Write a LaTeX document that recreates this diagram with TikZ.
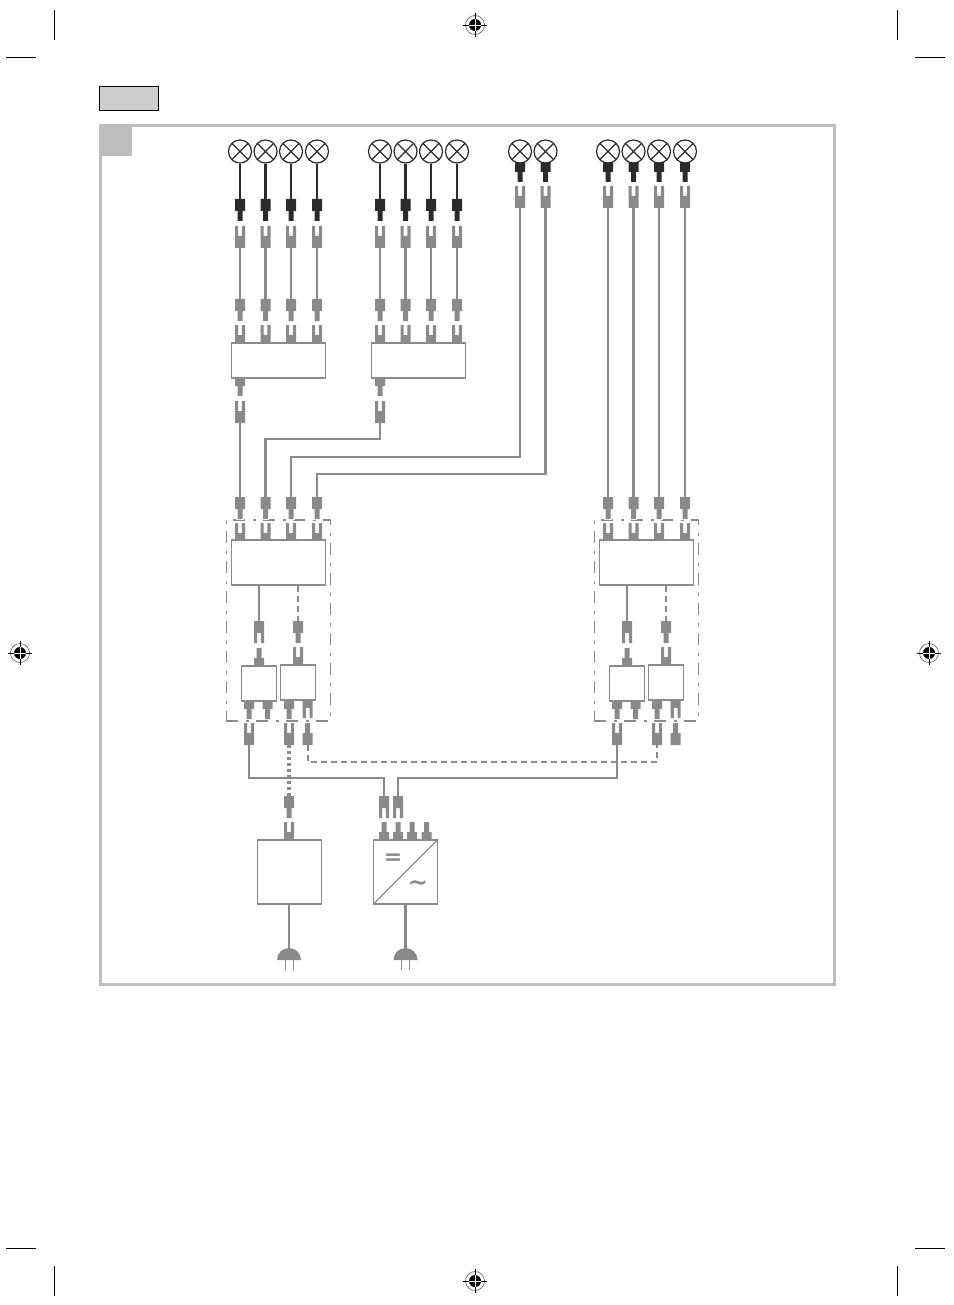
\documentclass[tikz,border=0pt]{standalone}
\usepackage{fontspec}
\newfontfamily\symfont{DejaVu Sans}
\definecolor{plugc}{HTML}{8A8A8A}
\definecolor{plugk}{HTML}{2B2B2B}
\definecolor{framec}{HTML}{BDBDBD}
\tikzset{
	wire/.style={draw=plugc, line width=2.2pt},
	wirek/.style={draw=plugk, line width=2.2pt},
	cord/.style={draw=plugc, line width=2.8pt},
	wiredash/.style={draw=plugc, line width=2.1pt, dash pattern=on 6pt off 4pt},
	wiredot/.style={draw=plugc, line width=3.2pt, dash pattern=on 3pt off 3pt},
	devbox/.style={draw=plugc, fill=white, line width=1.2pt, inner sep=0pt},
	modframe/.style={draw=plugc, line width=1.4pt, inner sep=0pt, minimum width=104pt, minimum height=201pt, dash pattern=on 12pt off 7.5pt on 3pt off 7.5pt},
	halo/.style={preaction={draw=white, line width=2.4pt}},
	lamp/.style={circle, draw=plugk, fill=white, line width=1.2pt, minimum size=23pt, inner sep=0pt,
		path picture={\draw[plugk, line width=1.1pt] (path picture bounding box.north west) -- (path picture bounding box.south east) (path picture bounding box.north east) -- (path picture bounding box.south west);}},
	pics/plugdown/.style={code={
		\path[halo, fill=#1] (-5,0) -- (5,0) -- (5,12) -- (2.5,12) -- (2.5,22) -- (-2.5,22) -- (-2.5,12) -- (-5,12) -- cycle;
		\coordinate (-t) at (0,0);
		\coordinate (-b) at (0,22);
	}},
	pics/plugdown/.default=plugc,
	pics/plugup/.style={code={
		\path[halo, fill=plugc] (-2.5,0) -- (2.5,0) -- (2.5,10) -- (5,10) -- (5,22) -- (-5,22) -- (-5,10) -- (-2.5,10) -- cycle;
		\coordinate (-t) at (0,0);
		\coordinate (-b) at (0,22);
	}},
	pics/forkup/.style={code={
		\path[halo, fill=plugc] (-5,0) -- (-1.9,0) -- (-1.9,10) -- (1.9,10) -- (1.9,0) -- (5,0) -- (5,22) -- (-5,22) -- cycle;
		\coordinate (-t) at (0,0);
		\coordinate (-b) at (0,22);
	}},
	pics/forkdown/.style={code={
		\path[halo, fill=plugc] (-5,0) -- (5,0) -- (5,22) -- (1.9,22) -- (1.9,12) -- (-1.9,12) -- (-1.9,22) -- (-5,22) -- cycle;
		\coordinate (-t) at (0,0);
		\coordinate (-b) at (0,22);
	}},
	pics/mains/.style={code={
		\fill[plugc] (-12,12) arc (180:360:12) -- cycle;
		\draw[plugc, line width=.9pt] (-4,12) -- (-4,22) (4,12) -- (4,22);
		\coordinate (-t) at (0,0);
	}},
	pics/regmark/.style={code={
		\draw[plugk!70, line width=.7pt] (0,0) circle (9.5);
		\fill[black] (0,0) circle (6);
		\draw[black, line width=.8pt] (-12,0) -- (12,0) (0,-12) -- (0,12);
		\draw[white, line width=.6pt] (-6,0) -- (6,0) (0,-6) -- (0,6);
	}},
}
\begin{document}
\begin{tikzpicture}[x=1pt, y=-1pt]
	\useasboundingbox (0,0) rectangle (953,1305);
	\fill[white] (0,0) rectangle (953,1305);

	\foreach \xm in {54,897} {
		\draw[black, line width=1pt] (\xm,10) -- (\xm,40);
		\draw[black, line width=1pt] (\xm,1266) -- (\xm,1296);
	}
	\foreach \xm in {6,915} {
		\draw[black, line width=1pt] (\xm,57.5) -- (\xm+30,57.5);
		\draw[black, line width=1pt] (\xm,1248) -- (\xm+30,1248);
	}
	\pic (regt) at (475,25) {regmark};
	\pic (regb) at (475,1281) {regmark};
	\pic (regl) at (20,653) {regmark};
	\pic (regr) at (929,653) {regmark};

	\node[draw=black, fill=black!20, line width=1pt, minimum width=59pt, minimum height=24pt, inner sep=0pt] (tab) at (129,98.5) {};
	\draw[framec, line width=3pt] (100.5,125.5) rectangle (834.5,984.5);
	\fill[framec] (99,124) rectangle (132,156);

	\foreach \g/\dg in {a/0,b/140} {
		\foreach \i/\xc in {1/240,2/265.5,3/291,4/317} {
			\pic (kp\g\i) at (\xc+\dg,199) {plugdown=plugk};
			\pic (fu\g\i) at (\xc+\dg,226) {forkup};
			\pic (mp\g\i) at (\xc+\dg,299) {plugdown};
			\pic (fl\g\i) at (\xc+\dg,325) {forkup};
			\node[lamp] (lamp\g\i) at (\xc+\dg,151.5) {};
			\draw[wirek] (lamp\g\i) -- (kp\g\i-t);
			\draw[wire] (fu\g\i-b) -- (mp\g\i-t);
		}
	}
	\foreach \i/\xc in {1/520,2/545.5} {
		\pic (kpc\i) at (\xc,160) {plugdown=plugk};
		\pic (fuc\i) at (\xc,186) {forkup};
		\node[lamp] (lampc\i) at (\xc,151.5) {};
	}
	\foreach \i/\xc in {1/608,2/633.5,3/659,4/685} {
		\pic (kpd\i) at (\xc,160) {plugdown=plugk};
		\pic (fud\i) at (\xc,186) {forkup};
		\node[lamp] (lampd\i) at (\xc,151.5) {};
	}

	\pic (oa) at (240,374) {plugdown};
	\pic (ob) at (380,374) {plugdown};
	\pic (ka) at (240,401) {forkup};
	\pic (kb) at (380,401) {forkup};
	\node[devbox, minimum width=94pt, minimum height=35pt] (spla) at (278.3,360.5) {};
	\node[devbox, minimum width=94pt, minimum height=35pt] (splb) at (418.3,360.5) {};

	\foreach \s/\dx in {l/0,r/368} {
		\begin{scope}[xshift=\dx]
			\node[modframe] (frame\s) at (278.3,620.5) {};
			\foreach \i/\xc in {1/240,2/265.5,3/291,4/317} {
				\pic (m\s\i) at (\xc,497) {plugdown};
				\pic (k\s\i) at (\xc,523) {forkup};
			}
			\pic (p\s1) at (259,621) {forkdown};
			\pic (p\s2) at (298,621) {plugdown};
			\pic (q\s1) at (259,648) {plugup};
			\pic (q\s2) at (298,647) {forkup};
			\pic (u\s1) at (249,697) {plugdown};
			\pic (u\s2) at (267.5,697) {plugdown};
			\pic (u\s3) at (289,697) {plugdown};
			\pic (u\s4) at (307.7,696) {forkdown};
			\pic (d\s1) at (249,723) {forkup};
			\pic (d\s2) at (289,723) {forkup};
			\pic (d\s3) at (307.7,723) {plugup};
			\node[devbox, minimum width=94pt, minimum height=45pt] (ctrl\s) at (278.3,562.5) {};
			\node[devbox, minimum width=35pt, minimum height=35pt] (unia\s) at (259,683.5) {};
			\node[devbox, minimum width=35pt, minimum height=35pt] (unib\s) at (298,682.5) {};
			\draw[wire] (ctrl\s.south -| p\s1-t) -- (p\s1-t);
			\draw[wiredash] (ctrl\s.south -| p\s2-t) -- (p\s2-t);
		\end{scope}
	}

	\pic (mpsu) at (289,796) {plugdown};
	\pic (fpsu) at (289,822) {forkup};
	\pic (fin1) at (384,796) {forkdown};
	\pic (fin2) at (398,796) {forkdown};
	\foreach \i/\xc in {1/384,2/398,3/412,4/426.5} {
		\pic (pin\i) at (\xc,822) {plugup};
	}
	\node[devbox, minimum width=64pt, minimum height=64pt] (psu) at (289.5,872) {};
	\node[devbox, minimum width=64pt, minimum height=64pt] (inv) at (405.5,872) {};
	\draw[plugc, line width=1.1pt] (inv.south west) -- (inv.north east);
	\node[plugc, font=\symfont\bfseries\fontsize{22}{22}\selectfont, inner sep=0pt] (eqs) at (393,859) {=};
	\node[plugc, font=\symfont\bfseries\fontsize{24}{24}\selectfont, inner sep=0pt] (acs) at (418,886) {\char`\~};
	\pic (plga) at (289,948) {mains};
	\pic (plgb) at (405.5,948) {mains};

	\coordinate (bend1) at (380,439);
	\coordinate (bend2) at (520,457);
	\coordinate (bend3) at (545.5,474);
	\coordinate (busl) at (249,778);
	\coordinate (busr) at (617,778);
	\coordinate (dashl) at (307.7,762);

	\draw[wire] (ka-b) -- (ml1-t);
	\draw[wire] (kb-b) -- (bend1) -| (ml2-t);
	\draw[wire] (fuc1-b) -- (bend2) -| (ml3-t);
	\draw[wire] (fuc2-b) -- (bend3) -| (ml4-t);
	\foreach \i in {1,2,3,4} {
		\draw[wire] (fud\i-b) -- (mr\i-t);
	}
	\draw[wire] (dl1-b) -- (busl) -| (fin1-t);
	\draw[wire] (dr1-b) -- (busr) -| (fin2-t);
	\draw[wiredot] (dl2-b) -- (mpsu-t);
	\draw[wiredash] (dl3-b) -- (dashl) -| (dr2-b);
	\draw[cord] (psu.south -| plga-t) -- (plga-t);
	\draw[cord] (inv.south -| plgb-t) -- (plgb-t);
\end{tikzpicture}
\end{document}
